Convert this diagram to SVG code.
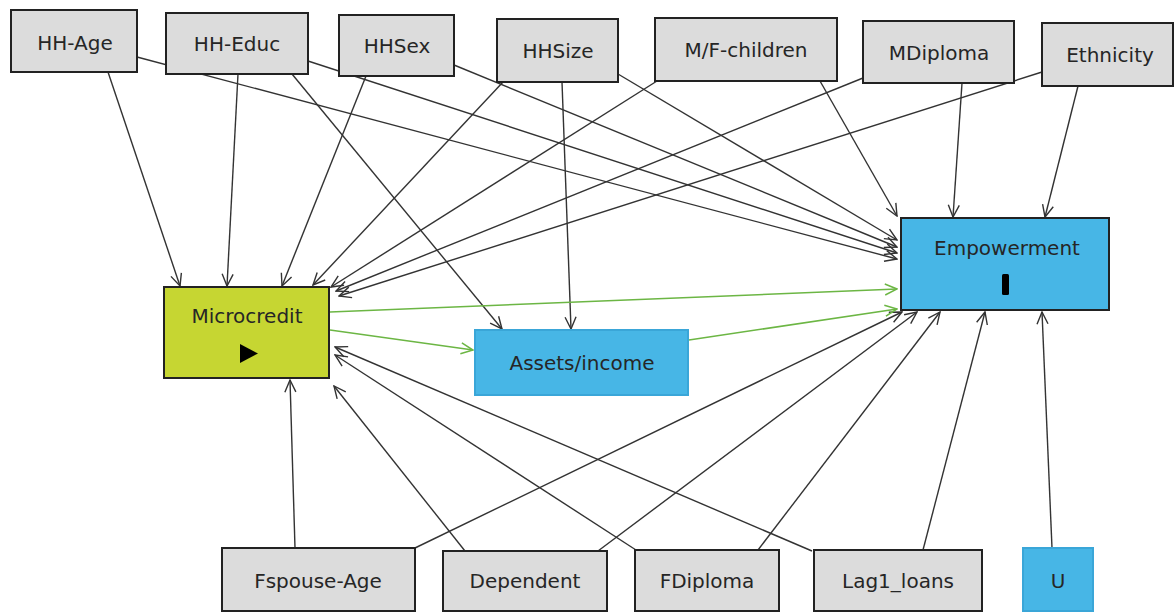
<svg xmlns="http://www.w3.org/2000/svg" width="1174" height="612" viewBox="0 0 1174 612">
<style>
.box{fill:#dcdcdc;stroke:#222;stroke-width:2}
.mc{fill:#c6d632;stroke:#222;stroke-width:2}
.emp{fill:#47b6e6;stroke:#222;stroke-width:2}
.blue{fill:#47b6e6;stroke:#3aa6d8;stroke-width:2}
text{font-family:"DejaVu Sans","Liberation Sans",sans-serif;font-size:20px;fill:#262626;text-anchor:middle}
.e{fill:none;stroke:#333;stroke-width:1.4}
.g{fill:none;stroke:#6cb644;stroke-width:1.5}
</style>
<defs>
<marker id="ad" viewBox="0 0 14 14" refX="13" refY="7" markerWidth="14" markerHeight="14" markerUnits="userSpaceOnUse" orient="auto">
<path d="M1,1.5 L13,7 L1,12.5" fill="none" stroke="#333" stroke-width="1.4"/>
</marker>
<marker id="ag" viewBox="0 0 14 14" refX="13" refY="7" markerWidth="14" markerHeight="14" markerUnits="userSpaceOnUse" orient="auto">
<path d="M1,1.5 L13,7 L1,12.5" fill="none" stroke="#6cb644" stroke-width="1.5"/>
</marker>
</defs>
<rect width="1174" height="612" fill="#fff"/>
<g id="connectors">
<g marker-end="url(#ad)" class="e">
<line x1="108" y1="72" x2="180" y2="286"/>
<line x1="238" y1="74" x2="227" y2="286"/>
<line x1="366" y1="76" x2="282" y2="286"/>
<line x1="503" y1="82" x2="313" y2="285"/>
<line x1="657" y1="81" x2="331" y2="287"/>
<line x1="863" y1="78" x2="336" y2="291"/>
<line x1="1042" y1="72" x2="339" y2="296"/>
<line x1="292" y1="74" x2="502" y2="329"/>
<line x1="562" y1="82" x2="571" y2="329"/>
<line x1="137" y1="57" x2="897" y2="259"/>
<line x1="308" y1="61" x2="897" y2="253"/>
<line x1="454" y1="65" x2="897" y2="247"/>
<line x1="618" y1="74" x2="897" y2="240"/>
<line x1="820" y1="81" x2="897" y2="216"/>
<line x1="962" y1="83" x2="953" y2="217"/>
<line x1="1078" y1="86" x2="1045" y2="217"/>
<line x1="295" y1="548" x2="290" y2="380"/>
<line x1="465" y1="551" x2="334" y2="386"/>
<line x1="636" y1="550" x2="335" y2="355"/>
<line x1="812" y1="551" x2="335" y2="347"/>
<line x1="415" y1="548" x2="902" y2="312"/>
<line x1="598" y1="551" x2="917" y2="312"/>
<line x1="758" y1="550" x2="940" y2="312"/>
<line x1="923" y1="550" x2="985" y2="312"/>
<line x1="1052" y1="548" x2="1042" y2="312"/>
</g>
<g marker-end="url(#ag)" class="g">
<line x1="330" y1="312" x2="897" y2="289"/>
<line x1="330" y1="330" x2="473" y2="350"/>
<line x1="689" y1="340" x2="897" y2="309"/>
</g>
</g>
<g id="hhage"><rect class="box" x="11" y="10" width="126" height="62"/><text x="75" y="50">HH-Age</text></g>
<g id="hheduc"><rect class="box" x="166" y="13" width="142" height="61"/><text x="237" y="51">HH-Educ</text></g>
<g id="hhsex"><rect class="box" x="339" y="15" width="115" height="61"/><text x="397" y="53">HHSex</text></g>
<g id="hhsize"><rect class="box" x="497" y="19" width="121" height="63"/><text x="558" y="58">HHSize</text></g>
<g id="mfchildren"><rect class="box" x="655" y="18" width="182" height="63"/><text x="746" y="57">M/F-children</text></g>
<g id="mdiploma"><rect class="box" x="863" y="21" width="151" height="62"/><text x="939" y="60">MDiploma</text></g>
<g id="ethnicity"><rect class="box" x="1042" y="23" width="131" height="63"/><text x="1110" y="62">Ethnicity</text></g>
<g id="microcredit"><rect class="mc" x="164" y="287" width="165" height="91"/><text x="247" y="323">Microcredit</text><path d="M240,344 L258,353.5 L240,363 Z" fill="#000"/></g>
<g id="assets"><rect class="blue" x="475" y="330" width="213" height="65"/><text x="582" y="370">Assets/income</text></g>
<g id="empowerment"><rect class="emp" x="901" y="218" width="208" height="92"/><text x="1007" y="255">Empowerment</text><rect x="1002" y="274" width="7" height="21" rx="1.5" fill="#000"/></g>
<g id="fspouse"><rect class="box" x="222" y="548" width="193" height="63"/><text x="318" y="588">Fspouse-Age</text></g>
<g id="dependent"><rect class="box" x="443" y="551" width="164" height="60"/><text x="525" y="588">Dependent</text></g>
<g id="fdiploma"><rect class="box" x="635" y="550" width="144" height="61"/><text x="707" y="588">FDiploma</text></g>
<g id="lag1"><rect class="box" x="814" y="550" width="168" height="61"/><text x="898" y="588">Lag1_loans</text></g>
<g id="u"><rect class="blue" x="1023" y="548" width="70" height="63"/><text x="1058" y="588">U</text></g>
</svg>
